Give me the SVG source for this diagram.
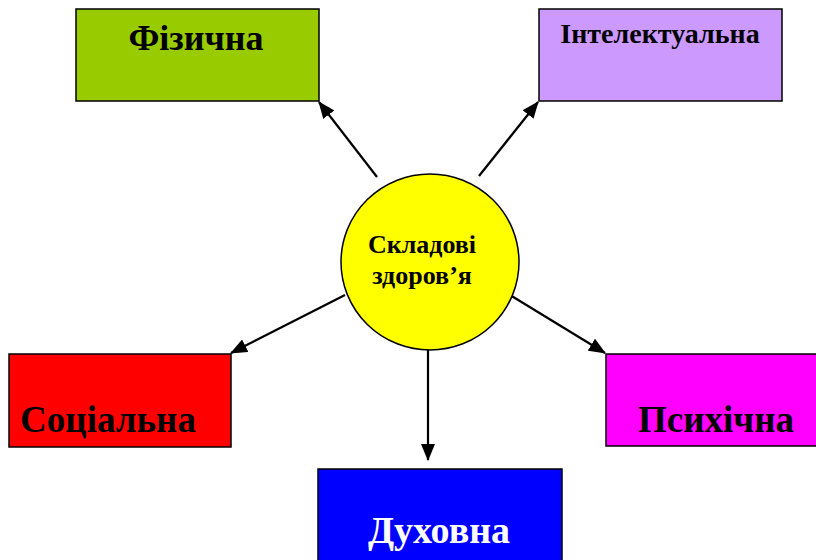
<svg xmlns="http://www.w3.org/2000/svg" width="816" height="560" viewBox="0 0 816 560">
<style>
.box{stroke:#000;stroke-width:1.5}
.t{font-family:"Liberation Serif","Times New Roman",serif;font-weight:bold;fill:#000}
.c{stroke:#000;stroke-width:2.2;fill:none;marker-end:url(#ah)}
</style>
<defs>
<marker id="ah" markerWidth="17" markerHeight="14" refX="16" refY="7" orient="auto" markerUnits="userSpaceOnUse">
<path d="M0,0 L17,7 L0,14 Z" fill="#000"/>
</marker>
</defs>
<rect width="816" height="560" fill="#fff"/>
<g id="connectors">
<line class="c" x1="377" y1="177" x2="319" y2="102"/>
<line class="c" x1="479" y1="176" x2="538" y2="102"/>
<line class="c" x1="345" y1="295" x2="231" y2="353"/>
<line class="c" x1="510" y1="295" x2="605" y2="353"/>
<line class="c" x1="428" y1="350" x2="428" y2="460"/>
</g>
<g id="fizychna">
<rect class="box" x="76" y="9" width="243" height="92" fill="#99CC00"/>
<text class="t" x="196" y="50" font-size="36" text-anchor="middle">Фізична</text>
</g>
<g id="intelektualna">
<rect class="box" x="539" y="9" width="243" height="92" fill="#CC99FF"/>
<text class="t" x="660" y="43" font-size="28" text-anchor="middle">Інтелектуальна</text>
</g>
<g id="center">
<ellipse cx="430" cy="262" rx="89" ry="88" fill="#FFFF00" stroke="#000" stroke-width="1.5"/>
<text class="t" x="422" y="253" font-size="26" text-anchor="middle">Складові</text>
<text class="t" x="422" y="284" font-size="26" text-anchor="middle">здоров’я</text>
</g>
<g id="sotsialna">
<rect class="box" x="9" y="354" width="222" height="93" fill="#FF0000"/>
<text class="t" x="108" y="432" font-size="37" text-anchor="middle">Соціальна</text>
</g>
<g id="psykhichna">
<rect class="box" x="606" y="354" width="212" height="92" fill="#FF00FF"/>
<text class="t" x="716" y="432" font-size="37" text-anchor="middle">Психічна</text>
</g>
<g id="dukhovna">
<rect class="box" x="318" y="469" width="244" height="100" fill="#0000FF"/>
<text class="t" x="439" y="543" font-size="38" text-anchor="middle" style="fill:#fff">Духовна</text>
</g>
</svg>
